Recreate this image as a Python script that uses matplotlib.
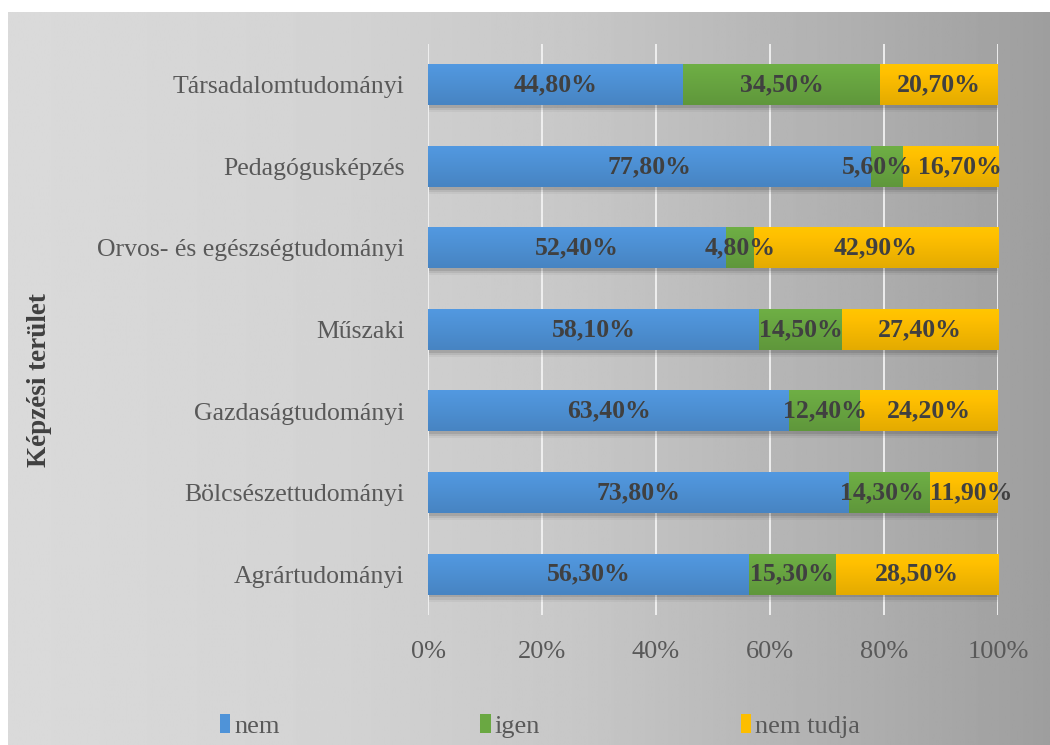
import numpy as np
import matplotlib
matplotlib.use("Agg")
import matplotlib.pyplot as plt
from matplotlib.patches import Patch
from matplotlib.colors import to_rgb

# képzési területek (alulról felfelé)
categories = ["Agrártudományi", "Bölcsészettudományi", "Gazdaságtudományi",
              "Műszaki", "Orvos- és egészségtudományi", "Pedagógusképzés",
              "Társadalomtudományi"]
nem = [56.3, 73.8, 63.4, 58.1, 52.4, 77.8, 44.8]
igen = [15.3, 14.3, 12.4, 14.5, 4.8, 5.6, 34.5]
nem_tudja = [28.5, 11.9, 24.2, 27.4, 42.9, 16.7, 20.7]
series_names = ["nem", "igen", "nem tudja"]
colors = ["#4f93d8", "#6aa842", "#fdbe00"]
xticks = [0, 20, 40, 60, 80, 100]

plt.rcParams['font.family'] = ['Liberation Serif', 'DejaVu Serif']

fig = plt.figure(figsize=(10.5, 7.45), dpi=100)

# szürke színátmenetes háttér
bg = fig.add_axes([8 / 1050, 0, 1 - 8 / 1050, 1 - 12 / 745], zorder=-10)
xs = np.linspace(0, 1, 400)
shade = np.interp(xs, [0, 0.3, 0.55, 1], [0.855, 0.83, 0.78, 0.62])
bg.imshow(np.tile(shade, (2, 1)), cmap='gray', vmin=0, vmax=1,
          aspect='auto', extent=[0, 1, 0, 1])
bg.axis('off')

ax = fig.add_axes([428 / 1050, 1 - 615 / 745, 570 / 1050, 571 / 745])
ax.patch.set_visible(False)

data = np.array([nem, igen, nem_tudja])
frac = data / data.sum(axis=0) * 100
y = np.arange(len(categories))
h = 0.5

# lágy árnyék a sávok alatt
for dy, a in [(0.035, 0.10), (0.06, 0.07), (0.085, 0.04)]:
    ax.barh(y - dy, frac.sum(axis=0), left=0.25, height=h, color='black',
            alpha=a, zorder=2, linewidth=0)

left = np.zeros(len(categories))
labels = []
for vals, raw, col in zip(frac, data, colors):
    row = []
    for yi, l, v, r in zip(y, left, vals, raw):
        # függőleges színátmenet: felül világosabb, alul sötétebb
        c = np.array(to_rgb(col))
        t = np.linspace(0, 1, 32)[:, None]
        grad = np.clip(c * (0.90 + 0.14 * t), 0, 1)[:, None, :].repeat(2, axis=1)
        ax.imshow(grad, aspect='auto', zorder=3, interpolation='bilinear',
                  extent=[l, l + v, yi - h / 2, yi + h / 2], origin='lower')
        txt = ax.text(l + v / 2, yi, f"{r:.2f}%".replace('.', ','),
                      ha='center', va='center', fontsize=18.5,
                      fontweight='bold', color='#404040', zorder=5)
        row.append(txt)
    labels.append(row)
    left += vals

ax.set_xlim(0, 100)
ax.set_ylim(-0.5, len(categories) - 0.5)
ax.set_xticks(xticks)
ax.set_xticklabels([f"{t}%" for t in xticks])
ax.set_yticks(y)
ax.set_yticklabels(categories)
ax.grid(axis='x', color='#f2f2f2', linewidth=1.3, zorder=0)
ax.set_axisbelow(True)
ax.tick_params(axis='both', length=0, labelcolor='#595959')
ax.tick_params(axis='y', labelsize=18.5, pad=17)
ax.tick_params(axis='x', labelsize=19, pad=19)
for s in ax.spines.values():
    s.set_visible(False)

# egymásra lógó címkék széttolása soronként
fig.canvas.draw()
renderer = fig.canvas.get_renderer()
px_per_unit = ax.transData.transform((1, 0))[0] - ax.transData.transform((0, 0))[0]
gap = 6 / px_per_unit
for i in range(len(categories)):
    row = [labels[s][i] for s in range(3)]
    for _ in range(10):
        for a, b in zip(row[:-1], row[1:]):
            ea = a.get_window_extent(renderer)
            eb = b.get_window_extent(renderer)
            overlap = (ea.x1 - eb.x0) / px_per_unit + gap
            if overlap > 0:
                xa, ya = a.get_position()
                xb, yb = b.get_position()
                a.set_position((xa - overlap / 2, ya))
                b.set_position((xb + overlap / 2, yb))

fig.text(40 / 1050, 1 - 380 / 745, "Képzési terület", rotation=90,
         ha='center', va='center', fontsize=19.5, fontweight='bold',
         color='#404040')

handles = [Patch(facecolor=c, label=n) for c, n in zip(colors, series_names)]
fig.legend(handles=handles, loc='center left', ncol=3,
           bbox_to_anchor=(196 / 1050, 1 - 726 / 745), frameon=False,
           fontsize=19, handlelength=0.4, handleheight=0.75,
           handletextpad=0.15, columnspacing=7.6, labelcolor='#595959')

fig.savefig("out.png", dpi=100, facecolor='white')
